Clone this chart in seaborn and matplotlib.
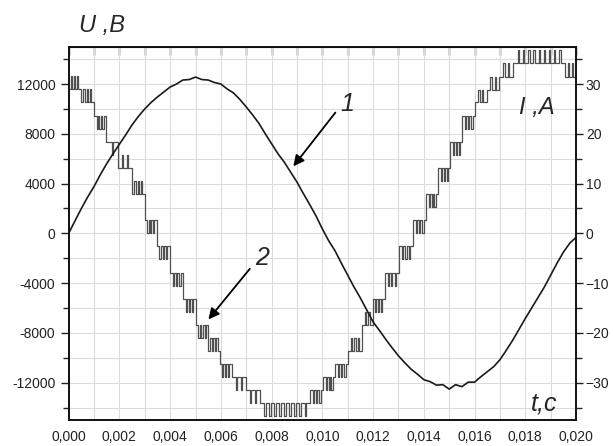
import numpy as np
import pandas as pd
import matplotlib.pyplot as plt
import seaborn as sns
from matplotlib.ticker import MultipleLocator, FuncFormatter, NullFormatter

# ---- curve 1: current I, A (right axis), read every 0.25 ms ----
t_cur = np.arange(81) * 0.00025
i_cur = [0.0, 2.5, 5.0, 7.3, 9.4, 11.8, 14.0, 16.0, 17.9, 19.8,
         21.8, 23.5, 25.0, 26.3, 27.4, 28.4, 29.4, 30.0, 30.8, 30.9,
         31.4, 30.9, 30.8, 30.3, 30.0, 29.0, 28.2, 26.9, 25.4, 23.8,
         22.1, 20.0, 18.0, 16.0, 14.3, 12.3, 10.3, 8.0, 5.8, 3.5,
         0.9, -1.5, -3.5, -6.0, -8.4, -10.8, -13.0, -15.4, -17.8, -19.5,
         -21.3, -23.0, -24.6, -26.0, -27.3, -28.3, -29.4, -29.8, -30.5, -30.4,
         -31.3, -30.4, -30.8, -29.9, -29.9, -28.8, -27.8, -26.8, -25.4, -23.5,
         -21.5, -19.3, -17.1, -15.0, -12.9, -10.8, -8.4, -6.0, -3.8, -2.0,
         -0.8]

# ---- curve 2: stepped voltage U, V (left axis), one row per step ----
step_t = [0.0, 0.00047, 0.00101, 0.00147, 0.00196, 0.00248, 0.00301, 0.00347,
          0.0040, 0.00452, 0.00502, 0.0055, 0.00596, 0.00643, 0.0070, 0.00754,
          0.00952, 0.01004, 0.0105, 0.01103, 0.01155, 0.01198, 0.01245, 0.01303,
          0.01357, 0.0141, 0.01456, 0.01505, 0.01552, 0.01602, 0.01648, 0.01698,
          0.01753, 0.01957]
step_level = [11600, 10550, 9450, 7350, 5250, 3150, 1050, -1050,
              -3150, -5250, -7350, -9450, -10500, -11550, -12600, -13650,
              -12600, -11550, -10500, -9450, -7350, -5250, -3150, -1050,
              1050, 3150, 5250, 7350, 9450, 10550, 11550, 12600,
              13650, 12600]
step_pulse = [12650, 11600, 8400, 6300, 6300, 4200, 0, -2100,
              -4200, -6300, -8400, -8400, -11550, -12600, -13650, -14700,
              -13650, -12600, -11550, -8400, -6300, -6300, -4200, -2100,
              0, 2100, 4200, 6300, 8400, 11550, 12600, 13650,
              14700, 13650]
step_n = [3, 3, 3, 1, 2, 3, 3, 3,
          3, 3, 3, 3, 3, 2, 2, 9,
          3, 3, 3, 3, 2, 3, 3, 3,
          3, 3, 3, 3, 3, 2, 2, 2,
          9, 2]
t_end = 0.020
pulse_w = 0.00005


def build_steps():
    xs, ys = [], []
    bounds = step_t + [t_end]
    for k in range(len(step_t)):
        a, b = bounds[k], bounds[k + 1]
        lv, pv, n = step_level[k], step_pulse[k], step_n[k]
        xs.append(a); ys.append(lv)
        gap = (b - a) / (n + 1)
        for j in range(n):
            p = a + gap * (j + 1) - pulse_w / 2
            xs += [p, p, p + pulse_w, p + pulse_w]
            ys += [lv, pv, pv, lv]
        xs.append(b); ys.append(lv)
    return pd.DataFrame({'t': xs, 'u': ys})


volt = build_steps()
cur = pd.DataFrame({'t': t_cur, 'i': i_cur})

sns.set_style("white")
plt.rcParams['font.family'] = ['Liberation Sans', 'DejaVu Sans']

fig = plt.figure(figsize=(6.13, 4.46), dpi=100)
ax = fig.add_axes([0.112, 0.0583, 0.8277, 0.8370])
ax2 = ax.twinx()

sns.lineplot(data=volt, x='t', y='u', sort=False, estimator=None,
             color='#505050', linewidth=0.9, ax=ax)
sns.lineplot(data=cur, x='t', y='i', sort=False, estimator=None,
             color='#1a1a1a', linewidth=1.2, ax=ax2)

ax.set_xlim(0, 0.020)
ax.set_ylim(-15000, 15000)
ax2.set_ylim(-37.5, 37.5)

ax.xaxis.set_major_locator(MultipleLocator(0.002))
ax.xaxis.set_minor_locator(MultipleLocator(0.001))
ax.yaxis.set_major_locator(MultipleLocator(4000))
ax.yaxis.set_minor_locator(MultipleLocator(2000))
ax2.yaxis.set_major_locator(MultipleLocator(10))
ax2.yaxis.set_minor_locator(MultipleLocator(5))
ax.xaxis.set_major_formatter(FuncFormatter(lambda v, p: f"{v:.3f}".replace('.', ',')))
ax.yaxis.set_major_formatter(FuncFormatter(lambda v, p: f"{v:.0f}"))

ax.grid(True, which='both', color='#dcdcdc', linewidth=0.8)
ax.set_axisbelow(True)
ax.set_xlabel('')
ax.set_ylabel('')
ax2.set_ylabel('')

ax.tick_params(axis='x', which='both', direction='out', length=4, width=1,
               labelsize=10, colors='#222222')
ax.tick_params(axis='y', which='major', direction='out', length=6, width=1,
               labelsize=10, colors='#222222')
ax.tick_params(axis='y', which='minor', direction='out', length=4, width=1)
ax2.tick_params(axis='y', which='major', direction='out', length=5, width=1,
                pad=2, labelsize=10, colors='#222222')
ax2.tick_params(axis='y', which='minor', direction='out', length=4, width=1)

# inward ticks along the top edge
top = ax.secondary_xaxis('top')
top.xaxis.set_major_locator(MultipleLocator(0.001))
top.xaxis.set_major_formatter(NullFormatter())
top.tick_params(direction='in', length=6, width=1, colors='#222222')

for a in (ax, ax2):
    for s in a.spines.values():
        s.set_visible(True)
        s.set_color('#111111')
        s.set_linewidth(1.2)

ax.text(0.066, 1.057, 'U ,B', transform=ax.transAxes, fontsize=17,
        style='italic', ha='center', va='center')
ax.text(0.923, 0.838, 'I ,A', transform=ax.transAxes, fontsize=17,
        style='italic', ha='center', va='center')
ax.text(0.937, 0.045, 't,c', transform=ax.transAxes, fontsize=18,
        style='italic', ha='center', va='center')

arrow = dict(arrowstyle='-|>', color='black', lw=1.3, mutation_scale=16)
ax.annotate('', xy=(0.00879, 5210), xytext=(0.01058, 9880), arrowprops=arrow)
ax.text(0.01097, 10400, '1', fontsize=18, style='italic', ha='center', va='center')
ax.annotate('', xy=(0.00544, -7090), xytext=(0.00721, -2680), arrowprops=arrow)
ax.text(0.00762, -1950, '2', fontsize=18, style='italic', ha='center', va='center')

fig.savefig('out.png', dpi=100)
